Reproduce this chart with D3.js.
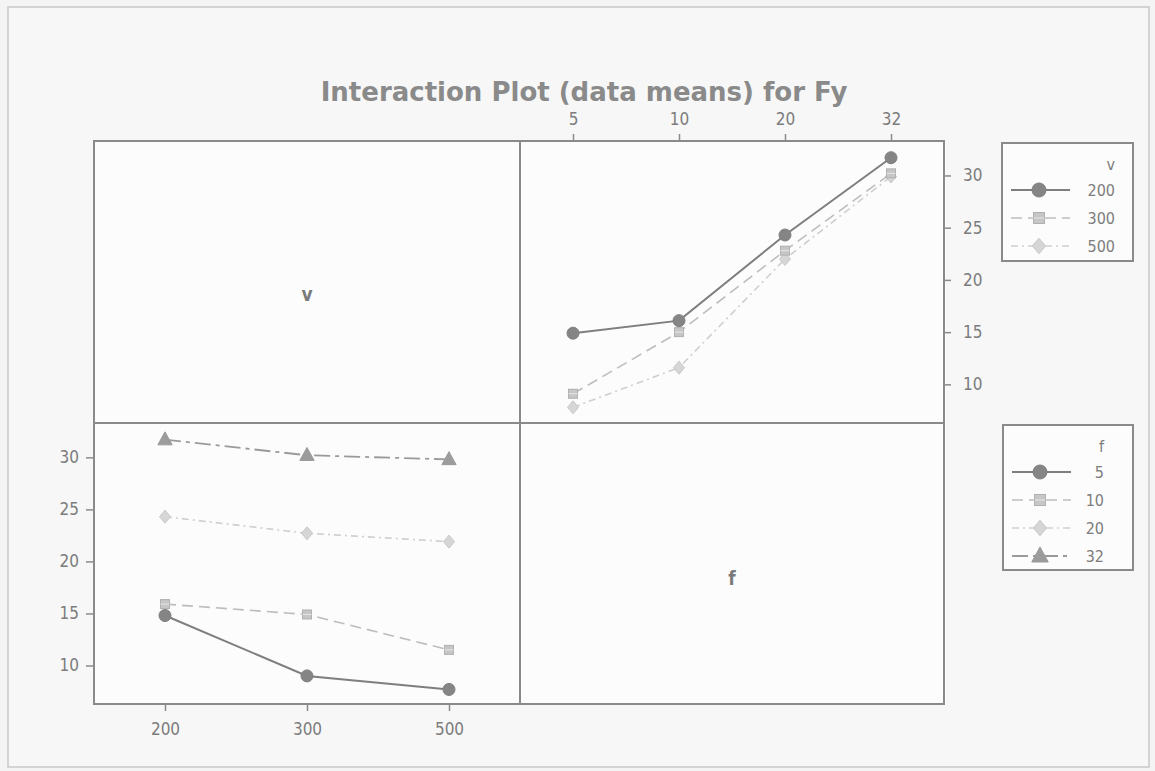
<!DOCTYPE html>
<html><head><meta charset="utf-8">
<script src="https://cdn.jsdelivr.net/npm/d3@7"></script>
<style>
html,body{margin:0;padding:0;background:#f4f4f4;}
svg{display:block;}
text{font-family:"DejaVu Sans Condensed","DejaVu Sans",sans-serif;}
</style></head>
<body>
<script>
// ---- data ----
const vLevels = ["200", "300", "500"];
const fLevels = ["5", "10", "20", "32"];
// mean Fy for each v level, across f levels 5,10,20,32
const meanV200 = [14.9, 16.1, 24.3, 31.7];
const meanV300 = [9.1, 15.0, 22.8, 30.2];
const meanV500 = [7.8, 11.6, 22.0, 29.9];
// mean Fy for each f level, across v levels 200,300,500
const meanF5  = [14.8, 9.0, 7.7];
const meanF10 = [15.9, 14.9, 11.5];
const meanF20 = [24.3, 22.7, 21.9];
const meanF32 = [31.7, 30.2, 29.8];
const yTicks = [10, 15, 20, 25, 30];
const titleText = "Interaction Plot (data means) for Fy";

// ---- styles ----
const styles = [
  {shape:"circle",   stroke:"#7e7e7e", fill:"#858585", dash:null,          w:2},
  {shape:"square",   stroke:"#bdbdbd", fill:"#c6c6c6", dash:"11,6",        w:1.6},
  {shape:"diamond",  stroke:"#cfcfcf", fill:"#d6d6d6", dash:"7,4,2,4",     w:1.6},
  {shape:"triangle", stroke:"#9a9a9a", fill:"#9c9c9c", dash:"16,5,4,5",    w:1.8}
];

const W = 1155, H = 771;
const svg = d3.select("body").append("svg").attr("width", W).attr("height", H);
svg.append("rect").attr("width", W).attr("height", H).attr("fill", "#f4f4f4");
// outer frame
svg.append("rect").attr("x", 8).attr("y", 7).attr("width", 1141).attr("height", 760)
  .attr("fill", "#f7f7f7").attr("stroke", "#c8c8c8").attr("stroke-width", 1.5);

svg.append("text").attr("x", 584).attr("y", 101).attr("text-anchor", "middle")
  .style("font-family", '"DejaVu Sans",sans-serif')
  .attr("font-size", 26).attr("font-weight", "bold").attr("fill", "#8a8a8a").text(titleText);

const X0 = 94, XM = 520, X1 = 944, Y0 = 141, YM = 423, Y1 = 704;

// panel backgrounds
[[X0,Y0],[XM,Y0],[X0,YM],[XM,YM]].forEach(([x,y]) => {
  svg.append("rect").attr("x", x).attr("y", y).attr("width", XM - X0).attr("height", YM - Y0)
    .attr("fill", "#fcfcfc");
});

const yDomain = [6.3, 33.3];
const yTop = d3.scaleLinear().domain(yDomain).range([YM, Y0]);
const yBot = d3.scaleLinear().domain(yDomain).range([Y1, YM]);
const xF = d3.scalePoint().domain(fLevels).range([XM, X1]).padding(0.5);
const xV = d3.scalePoint().domain(vLevels).range([X0, XM]).padding(0.5);

function marker(g, shape, x, y, s, st) {
  if (shape === "circle") {
    g.append("circle").attr("cx", x).attr("cy", y).attr("r", s)
      .attr("fill", st.fill).attr("stroke", st.stroke).attr("stroke-width", 1);
  } else if (shape === "square") {
    g.append("rect").attr("x", x - s).attr("y", y - s).attr("width", 2*s).attr("height", 2*s)
      .attr("fill", st.fill).attr("stroke", "#b0b0b0").attr("stroke-width", 1);
    g.append("line").attr("x1", x - s).attr("x2", x + s).attr("y1", y).attr("y2", y)
      .attr("stroke", "#e6e6e6").attr("stroke-width", 1);
  } else if (shape === "diamond") {
    g.append("path").attr("d", `M${x},${y-s*1.3}L${x+s*1.1},${y}L${x},${y+s*1.3}L${x-s*1.1},${y}Z`)
      .attr("fill", st.fill).attr("stroke", "#c8c8c8").attr("stroke-width", 1);
  } else {
    g.append("path").attr("d", `M${x},${y-s*1.2}L${x+s*1.1},${y+s*0.8}L${x-s*1.1},${y+s*0.8}Z`)
      .attr("fill", st.fill).attr("stroke", st.stroke).attr("stroke-width", 1);
  }
}
const sizes = {circle:6, square:4.5, diamond:5, triangle:6.5};

function drawSeries(vals, xs, cats, yS, st) {
  const g = svg.append("g");
  const line = d3.line().x((d,i) => xs(cats[i])).y(d => yS(d));
  g.append("path").attr("d", line(vals)).attr("fill", "none")
    .attr("stroke", st.stroke).attr("stroke-width", st.w)
    .attr("stroke-dasharray", st.dash);
  vals.forEach((d,i) => marker(g, st.shape, xs(cats[i]), yS(d), sizes[st.shape], st));
}

// top-right: v series over f
[meanV500, meanV300, meanV200].forEach((vals, k) => {
  const idx = 2 - k;
  drawSeries(vals, xF, fLevels, yTop, styles[idx]);
});
// bottom-left: f series over v
[meanF32, meanF20, meanF10, meanF5].forEach((vals, k) => {
  const idx = 3 - k;
  drawSeries(vals, xV, vLevels, yBot, styles[idx]);
});

// panel borders
svg.append("rect").attr("x", X0).attr("y", Y0).attr("width", X1 - X0).attr("height", Y1 - Y0)
  .attr("fill", "none").attr("stroke", "#8a8a8a").attr("stroke-width", 2);
svg.append("line").attr("x1", XM).attr("x2", XM).attr("y1", Y0).attr("y2", Y1)
  .attr("stroke", "#8a8a8a").attr("stroke-width", 2);
svg.append("line").attr("x1", X0).attr("x2", X1).attr("y1", YM).attr("y2", YM)
  .attr("stroke", "#8a8a8a").attr("stroke-width", 2);

// axes
function styleAxis(g) {
  g.select(".domain").remove();
  g.selectAll(".tick line").attr("stroke", "#8a8a8a").attr("stroke-width", 1.5);
  g.selectAll(".tick text").attr("fill", "#7c7c7c").attr("font-size", 17)
    .style("font-family", '"DejaVu Sans Condensed","DejaVu Sans",sans-serif');
}
svg.append("g").attr("transform", `translate(0,${Y0})`)
  .call(d3.axisTop(xF).tickSize(7).tickPadding(9)).call(styleAxis);
svg.append("g").attr("transform", `translate(${X1},0)`)
  .call(d3.axisRight(yTop).tickValues(yTicks).tickSize(7).tickPadding(12)).call(styleAxis);
svg.append("g").attr("transform", `translate(${X0},0)`)
  .call(d3.axisLeft(yBot).tickValues(yTicks).tickSize(8).tickPadding(7)).call(styleAxis);
svg.append("g").attr("transform", `translate(0,${Y1})`)
  .call(d3.axisBottom(xV).tickSize(7).tickPadding(12)).call(styleAxis);

// diagonal labels
svg.append("text").attr("x", (X0+XM)/2).attr("y", 301).attr("text-anchor", "middle")
  .attr("font-size", 19).attr("font-weight", "bold").attr("fill", "#7a7a7a").text("v");
svg.append("text").attr("x", (XM+X1)/2).attr("y", 585).attr("text-anchor", "middle")
  .attr("font-size", 19).attr("font-weight", "bold").attr("fill", "#7a7a7a").text("f");

// legends
function legend(x, y, w, h, title, labels, styleIdx, rpad) {
  const g = svg.append("g");
  g.append("rect").attr("x", x).attr("y", y).attr("width", w).attr("height", h)
    .attr("fill", "#fcfcfc").attr("stroke", "#8a8a8a").attr("stroke-width", 2);
  const rx = x + w - rpad;
  g.append("text").attr("x", rx).attr("y", y + 27).attr("text-anchor", "end")
    .attr("font-size", 16).attr("fill", "#7c7c7c").text(title);
  labels.forEach((lab, i) => {
    const st = styles[styleIdx[i]];
    const cy = y + 47 + i * 28;
    g.append("line").attr("x1", x + 9).attr("x2", x + 68).attr("y1", cy).attr("y2", cy)
      .attr("stroke", st.stroke).attr("stroke-width", st.w).attr("stroke-dasharray", st.dash);
    marker(g, st.shape, x + 37, cy, sizes[st.shape] + 1, st);
    g.append("text").attr("x", rx).attr("y", cy + 6).attr("text-anchor", "end")
      .attr("font-size", 16).attr("fill", "#7c7c7c").text(lab);
  });
}
legend(1002, 143, 131, 118, "v", vLevels, [0,1,2], 18);
legend(1003, 425, 130, 145, "f", fLevels, [0,1,2,3], 29);
</script>
</body></html>
